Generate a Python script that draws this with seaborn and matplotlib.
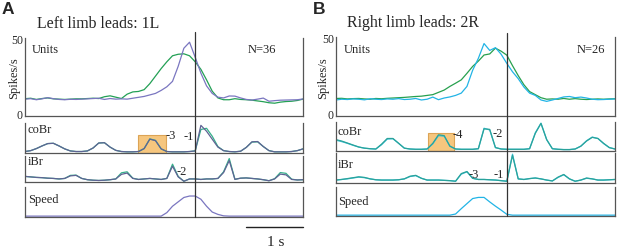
import numpy as np
import matplotlib
matplotlib.use("Agg")
import matplotlib.pyplot as plt
import seaborn as sns
from matplotlib.lines import Line2D
from matplotlib.patches import Rectangle
from matplotlib.transforms import blended_transform_factory

# ---------------- data (time in s relative to event, 0.1 s steps) ----------------
time_s = np.round(np.arange(-3.0, 1.95, 0.1), 1)

# Panel A: left limb leads (1L)
A_units_purple = [10.2, 10.5, 9.8, 10.4, 11.2, 10.5, 10.0, 9.8, 10.1, 10.0,
                  10.2, 10.4, 10.6, 10.8, 10.0, 10.6, 10.2, 10.4, 10.2, 10.8,
                  11.4, 12.0, 13.0, 14.0, 16.0, 18.4, 22.0, 32.0, 44.0, 48.0,
                  38.0, 27.5, 19.0, 14.0, 11.5, 11.0, 12.3, 12.2, 11.0, 10.0,
                  9.6, 10.2, 10.9, 8.8, 9.2, 9.5, 9.6, 9.7, 9.8, 10.3]
A_units_green = [10.5, 10.8, 10.0, 10.6, 11.0, 10.4, 10.2, 10.0, 10.2, 10.4,
                 10.4, 10.6, 10.8, 10.6, 11.8, 12.4, 11.5, 10.6, 13.5, 15.0,
                 15.3, 16.5, 20.5, 25.5, 30.5, 35.0, 39.0, 40.0, 40.3, 39.0,
                 35.0, 30.0, 23.0, 15.5, 11.0, 9.8, 9.8, 10.5, 10.0, 9.8,
                 9.5, 9.0, 8.5, 7.8, 7.5, 8.2, 8.6, 8.8, 9.3, 10.2]
A_cobr_purple = [0.03, 0.06, 0.13, 0.22, 0.30, 0.31, 0.22, 0.12, 0.05, 0.03,
                 0.03, 0.05, 0.15, 0.32, 0.33, 0.18, 0.07, 0.03, 0.02, 0.02,
                 0.03, 0.13, 0.45, 0.40, 0.12, 0.03, 0.02, 0.02, 0.02, 0.03,
                 0.05, 0.92, 0.72, 0.45, 0.18, 0.06, 0.03, 0.02, 0.04, 0.17,
                 0.36, 0.37, 0.20, 0.06, 0.02, 0.02, 0.02, 0.03, 0.06, 0.12]
A_cobr_green = [0.03, 0.06, 0.13, 0.22, 0.30, 0.31, 0.22, 0.12, 0.05, 0.03,
                0.03, 0.05, 0.15, 0.32, 0.33, 0.18, 0.07, 0.03, 0.02, 0.02,
                0.03, 0.13, 0.46, 0.41, 0.12, 0.03, 0.02, 0.02, 0.02, 0.03,
                0.05, 0.78, 0.82, 0.55, 0.20, 0.06, 0.03, 0.02, 0.04, 0.17,
                0.35, 0.36, 0.20, 0.06, 0.02, 0.02, 0.02, 0.03, 0.06, 0.12]
A_ibr_purple = [0.20, 0.18, 0.16, 0.15, 0.13, 0.12, 0.10, 0.12, 0.22, 0.24,
                0.12, 0.07, 0.05, 0.04, 0.05, 0.07, 0.10, 0.28, 0.33, 0.12,
                0.08, 0.10, 0.12, 0.10, 0.08, 0.12, 0.60, 0.18, 0.01, 0.10,
                0.10, 0.08, 0.10, 0.10, 0.12, 0.35, 0.82, 0.08, 0.13, 0.14,
                0.12, 0.10, 0.07, 0.03, 0.10, 0.29, 0.26, 0.08, 0.06, 0.07]
A_ibr_green = [0.20, 0.18, 0.16, 0.15, 0.13, 0.12, 0.10, 0.12, 0.24, 0.25,
               0.12, 0.07, 0.05, 0.04, 0.05, 0.07, 0.10, 0.34, 0.38, 0.13,
               0.08, 0.10, 0.12, 0.10, 0.08, 0.12, 0.68, 0.20, 0.01, 0.10,
               0.10, 0.08, 0.10, 0.10, 0.12, 0.38, 0.90, 0.09, 0.13, 0.14,
               0.12, 0.10, 0.07, 0.03, 0.11, 0.35, 0.32, 0.09, 0.06, 0.07]
A_speed = [0, 0, 0, 0, 0, 0, 0, 0, 0, 0,
           0, 0, 0, 0, 0, 0, 0, 0, 0, 0,
           0, 0, 0, 0, 0.0, 0.12, 0.34, 0.49, 0.64, 0.69,
           0.69, 0.58, 0.34, 0.14, 0.06, 0.01, 0, 0, 0, 0,
           0, 0, 0, 0, 0, 0, 0, 0, 0, 0]

# Panel B: right limb leads (2R)
B_units_cyan = [9.5, 10.0, 9.8, 10.2, 10.0, 9.6, 10.3, 10.0, 9.8, 10.2,
                10.0, 10.4, 9.8, 10.0, 10.5, 9.5, 10.0, 11.4, 9.7, 10.8,
                11.5, 12.5, 14.0, 18.4, 29.0, 36.8, 46.5, 42.0, 43.8, 39.5,
                33.5, 28.0, 23.5, 18.0, 14.0, 12.5, 9.5, 8.6, 9.5, 10.5,
                11.5, 11.8, 11.0, 11.4, 10.8, 10.0, 9.7, 9.8, 10.0, 10.2]
B_units_green = [10.5, 10.6, 10.2, 10.4, 10.5, 10.2, 10.0, 10.5, 10.3, 10.6,
                 10.8, 11.0, 11.2, 11.5, 11.8, 12.0, 12.5, 13.0, 14.5, 16.0,
                 18.4, 20.5, 22.7, 27.0, 31.5, 35.0, 39.0, 39.7, 43.5, 41.5,
                 38.9, 32.0, 25.5, 19.5, 15.0, 13.0, 11.0, 10.0, 10.2, 10.0,
                 10.5, 10.0, 10.4, 10.0, 9.8, 10.0, 10.2, 10.0, 10.2, 10.3]
B_cobr_teal = [0.38, 0.33, 0.26, 0.19, 0.12, 0.08, 0.06, 0.05, 0.22, 0.42,
               0.42, 0.25, 0.08, 0.05, 0.04, 0.04, 0.05, 0.25, 0.55, 0.52,
               0.15, 0.05, 0.04, 0.04, 0.04, 0.06, 0.76, 0.74, 0.10, 0.05,
               0.04, 0.04, 0.04, 0.04, 0.06, 0.60, 0.95, 0.38, 0.06, 0.04,
               0.03, 0.03, 0.05, 0.15, 0.33, 0.46, 0.42, 0.25, 0.10, 0.05]
B_cobr_cyan = [0.36, 0.31, 0.25, 0.18, 0.12, 0.08, 0.06, 0.05, 0.20, 0.40,
               0.41, 0.25, 0.08, 0.05, 0.04, 0.04, 0.05, 0.23, 0.52, 0.50,
               0.15, 0.05, 0.04, 0.04, 0.04, 0.06, 0.78, 0.72, 0.10, 0.05,
               0.04, 0.04, 0.04, 0.04, 0.06, 0.62, 0.96, 0.38, 0.06, 0.04,
               0.03, 0.03, 0.05, 0.15, 0.34, 0.47, 0.42, 0.24, 0.10, 0.05]
B_ibr_teal = [0.08, 0.10, 0.13, 0.16, 0.19, 0.17, 0.12, 0.09, 0.08, 0.08,
              0.08, 0.09, 0.12, 0.21, 0.24, 0.14, 0.08, 0.08, 0.08, 0.07,
              0.06, 0.04, 0.30, 0.37, 0.14, 0.10, 0.10, 0.09, 0.08, 0.06,
              0.04, 0.92, 0.12, 0.10, 0.13, 0.15, 0.12, 0.08, 0.05, 0.18,
              0.27, 0.12, 0.04, 0.08, 0.15, 0.12, 0.08, 0.08, 0.09, 0.10]
B_ibr_cyan = [0.08, 0.10, 0.12, 0.15, 0.18, 0.16, 0.12, 0.09, 0.08, 0.08,
              0.08, 0.09, 0.12, 0.20, 0.23, 0.14, 0.08, 0.08, 0.08, 0.07,
              0.06, 0.04, 0.28, 0.36, 0.14, 0.10, 0.10, 0.09, 0.08, 0.06,
              0.04, 0.96, 0.12, 0.10, 0.13, 0.15, 0.12, 0.08, 0.05, 0.17,
              0.26, 0.12, 0.04, 0.08, 0.14, 0.12, 0.08, 0.08, 0.09, 0.10]
B_speed = [0, 0, 0, 0, 0, 0, 0, 0, 0, 0,
           0, 0, 0, 0, 0, 0, 0, 0, 0, 0,
           0.0, 0.04, 0.23, 0.41, 0.59, 0.63, 0.63, 0.47, 0.32, 0.18,
           0.03, 0, 0, 0, 0, 0, 0, 0, 0, 0,
           0, 0, 0, 0, 0, 0, 0, 0, 0, 0]

highlight_A = (-1.01, -0.51)   # highlighted coBr step in panel A (s)
highlight_B = (-1.38, -0.93)   # highlighted coBr step in panel B (s)

# ---------------- style ----------------
sns.set_theme(style="white")
plt.rcParams["font.family"] = ["Liberation Serif", "DejaVu Serif"]
plt.rcParams["axes.linewidth"] = 0.9
plt.rcParams["lines.solid_joinstyle"] = "round"

W, H = 617, 252
fig = plt.figure(figsize=(W / 100, H / 100), dpi=100)

SPINE = "#555555"
PURPLE = "#7a76c0"
GREEN_A = "#23a055"
PURPLE_LOW = "#5f6394"
GREEN_LOW = "#35b08a"
CYAN = "#22b4e6"
GREEN_B = "#27a04e"
TEAL_LOW = "#2aa29a"
CYAN_LOW = "#3cc4dc"


def px_axes(x0, x1, y0, y1):
    return fig.add_axes([x0 / W, 1 - y1 / H, (x1 - x0) / W, (y1 - y0) / H])


def fx(x):
    return x / W


def fy(y):
    return 1 - y / H


def style_axes(ax, ylim, yticks=False):
    ax.set_xlim(-3.0, 1.9)
    ax.set_ylim(*ylim)
    ax.set_facecolor("none")
    for s in ["left", "right", "bottom"]:
        ax.spines[s].set_visible(True)
        ax.spines[s].set_color(SPINE)
        ax.spines[s].set_linewidth(0.9)
    ax.spines["top"].set_visible(False)
    ax.set_xticks([])
    if yticks:
        ax.set_yticks([0, 50])
        ax.set_yticklabels(["0", "50"], fontsize=8.5)
        ax.tick_params(axis="y", length=0, pad=1.5)
    else:
        ax.set_yticks([])
    ax.set_xlabel("")
    ax.set_ylabel("")


def trace(ax, y, color, lw=0.9):
    sns.lineplot(x=time_s, y=y, ax=ax, color=color, linewidth=lw,
                 estimator=None, legend=False)


panels = [
    dict(x0=25, x1=303, rows=[(38, 116), (123, 153), (156, 182), (187, 217)],
         units=(A_units_green, A_units_purple), cobr=(A_cobr_green, A_cobr_purple),
         ibr=(A_ibr_green, A_ibr_purple), speed=A_speed,
         c_top=(GREEN_A, PURPLE), c_low=(GREEN_LOW, PURPLE_LOW), c_speed=PURPLE,
         hl=highlight_A, vline=(32, 217)),
    dict(x0=336, x1=615, rows=[(37, 116), (122, 151), (153, 183), (187, 216)],
         units=(B_units_green, B_units_cyan), cobr=(B_cobr_cyan, B_cobr_teal),
         ibr=(B_ibr_cyan, B_ibr_teal), speed=B_speed,
         c_top=(GREEN_B, CYAN), c_low=(CYAN_LOW, TEAL_LOW), c_speed=CYAN,
         hl=highlight_B, vline=(33, 216)),
]

for p in panels:
    r = p["rows"]
    ax_u = px_axes(p["x0"], p["x1"], *r[0])
    ax_c = px_axes(p["x0"], p["x1"], *r[1])
    ax_i = px_axes(p["x0"], p["x1"], *r[2])
    ax_s = px_axes(p["x0"], p["x1"], *r[3])

    trace(ax_u, p["units"][0], p["c_top"][0])
    trace(ax_u, p["units"][1], p["c_top"][1])
    style_axes(ax_u, (-1.0, 50.8), yticks=True)

    ax_c.add_patch(Rectangle((p["hl"][0], -0.02), p["hl"][1] - p["hl"][0], 0.62,
                             facecolor="#f6c67e", edgecolor="#dca456",
                             linewidth=0.8, zorder=0))
    trace(ax_c, p["cobr"][0], p["c_low"][0])
    trace(ax_c, p["cobr"][1], p["c_low"][1])
    style_axes(ax_c, (-0.02, 1.0))

    trace(ax_i, p["ibr"][0], p["c_low"][0])
    trace(ax_i, p["ibr"][1], p["c_low"][1])
    style_axes(ax_i, (-0.02, 1.0))

    trace(ax_s, p["speed"], p["c_speed"])
    style_axes(ax_s, (-0.03, 1.0))

    # event line at t = 0 running through all rows
    tr = blended_transform_factory(ax_u.transData, fig.transFigure)
    fig.add_artist(Line2D([0, 0], [fy(p["vline"][0]), fy(p["vline"][1])],
                          transform=tr, color="#333333", linewidth=0.9))
    p["axes"] = (ax_u, ax_c, ax_i, ax_s)

# scale bar (1 s) under panel A
axA_s = panels[0]["axes"][3]
trs = blended_transform_factory(axA_s.transData, fig.transFigure)
fig.add_artist(Line2D([0.9, 1.9], [fy(227), fy(227)], transform=trs,
                      color="#222222", linewidth=1.0))
fig.text(fx(276), fy(243), "1 s", fontsize=11, ha="center", va="center")

# ---------------- text ----------------
sans_bold = dict(family=["Liberation Sans", "DejaVu Sans"], fontweight="bold")
fig.text(fx(2), fy(9), "A", fontsize=12.5, ha="left", va="center", **sans_bold)
fig.text(fx(313), fy(9), "B", fontsize=12.5, ha="left", va="center", **sans_bold)

fig.text(fx(37), fy(24), "Left limb leads: 1L", fontsize=11.4, ha="left", va="center")
fig.text(fx(347), fy(23), "Right limb leads: 2R", fontsize=11.4, ha="left", va="center")

fig.text(fx(14), fy(78), "Spikes/s", fontsize=9, rotation=90, ha="center", va="center")
fig.text(fx(323), fy(78), "Spikes/s", fontsize=9, rotation=90, ha="center", va="center")

fs = 9
fig.text(fx(32), fy(50), "Units", fontsize=fs, ha="left", va="center")
fig.text(fx(248), fy(50), "N=36", fontsize=fs, ha="left", va="center")
fig.text(fx(344), fy(50), "Units", fontsize=fs, ha="left", va="center")
fig.text(fx(577), fy(50), "N=26", fontsize=fs, ha="left", va="center")

for x0, ys in [(28, (130, 162, 200)), (338, (132, 165, 202))]:
    fig.text(fx(x0), fy(ys[0]), "coBr", fontsize=fs, ha="left", va="center")
    fig.text(fx(x0), fy(ys[1]), "iBr", fontsize=fs, ha="left", va="center")
    fig.text(fx(x0), fy(ys[2]), "Speed", fontsize=fs, ha="left", va="center")

# step labels
fig.text(fx(166), fy(136), "-3", fontsize=fs, ha="left", va="center")
fig.text(fx(184), fy(137), "-1", fontsize=fs, ha="left", va="center")
fig.text(fx(177), fy(172), "-2", fontsize=fs, ha="left", va="center")
fig.text(fx(453), fy(135), "-4", fontsize=fs, ha="left", va="center")
fig.text(fx(493), fy(134), "-2", fontsize=fs, ha="left", va="center")
fig.text(fx(469), fy(175), "-3", fontsize=fs, ha="left", va="center")
fig.text(fx(494), fy(175), "-1", fontsize=fs, ha="left", va="center")

fig.savefig("out.png", dpi=100)
